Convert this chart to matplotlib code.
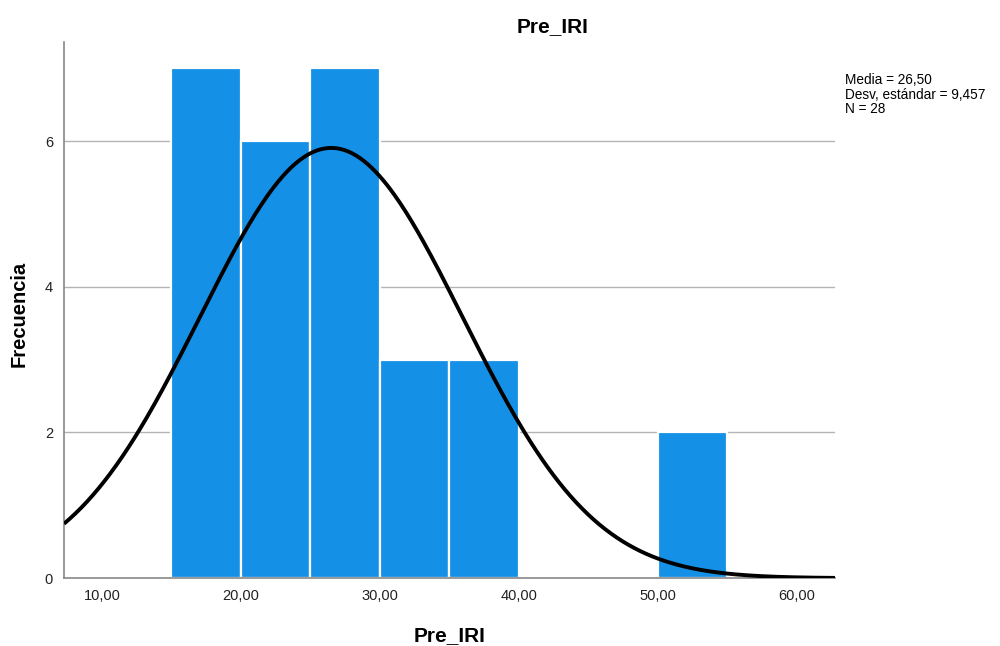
import numpy as np
import matplotlib
matplotlib.use("Agg")
import matplotlib.pyplot as plt

plt.rcParams['font.family'] = ['Liberation Sans', 'DejaVu Sans']

# Histogram of Pre_IRI (bin width 5)
bin_left = [15, 20, 25, 30, 35, 40, 45, 50]
counts = [7, 6, 7, 3, 3, 0, 0, 2]
bin_width = 5
mean = 26.50
std = 9.457
n = 28
xticks = [10, 20, 30, 40, 50, 60]
yticks = [0, 2, 4, 6]

fig = plt.figure(figsize=(10, 6.46), dpi=100)
ax = fig.add_axes([0.064, 0.105, 0.771, 0.830])

ax.set_xlim(7.27, 62.75)
ax.set_ylim(0, 7.36)

for yv in yticks[1:]:
    ax.axhline(yv, color='#b4b4b4', lw=1.0, zorder=0)

ax.bar(bin_left, counts, width=bin_width, align='edge', color='#1490e6',
       edgecolor='white', linewidth=1.6, zorder=2)

# Normal curve scaled to counts per bin
xs = np.linspace(7.27, 62.75, 400)
pdf = n * bin_width / (std * np.sqrt(2 * np.pi)) * np.exp(-0.5 * ((xs - mean) / std) ** 2)
ax.plot(xs, pdf, color='black', lw=2.8, zorder=3, solid_capstyle='butt')

ax.set_xticks(xticks)
ax.set_xticklabels([f"{v:.2f}".replace('.', ',') for v in xticks], fontsize=10.5, color='#222222')
ax.set_yticks(yticks)
ax.set_yticklabels([str(v) for v in yticks], fontsize=10.5, color='#222222')
ax.tick_params(length=0, pad=8)

for s in ['top', 'right']:
    ax.spines[s].set_visible(False)
for s in ['left', 'bottom']:
    ax.spines[s].set_color('#888888')
    ax.spines[s].set_linewidth(1.2)

fig.text(0.553, 0.950, 'Pre_IRI', ha='center', va='baseline', fontsize=15, fontweight='bold')
fig.text(0.450, 0.008, 'Pre_IRI', ha='center', va='baseline', fontsize=15, fontweight='bold')
fig.text(0.019, 0.514, 'Frecuencia', ha='center', va='center', rotation=90, fontsize=14.5, fontweight='bold')

stats = (f"Media = {mean:.2f}".replace('.', ',') + "\n"
         + f"Desv. estándar = {std:.3f}".replace('.', ',') + "\n"
         + f"N = {n}")
fig.text(0.845, 0.887, stats, ha='left', va='top', fontsize=9.8, linespacing=1.05)

fig.savefig('out.png', dpi=100)
